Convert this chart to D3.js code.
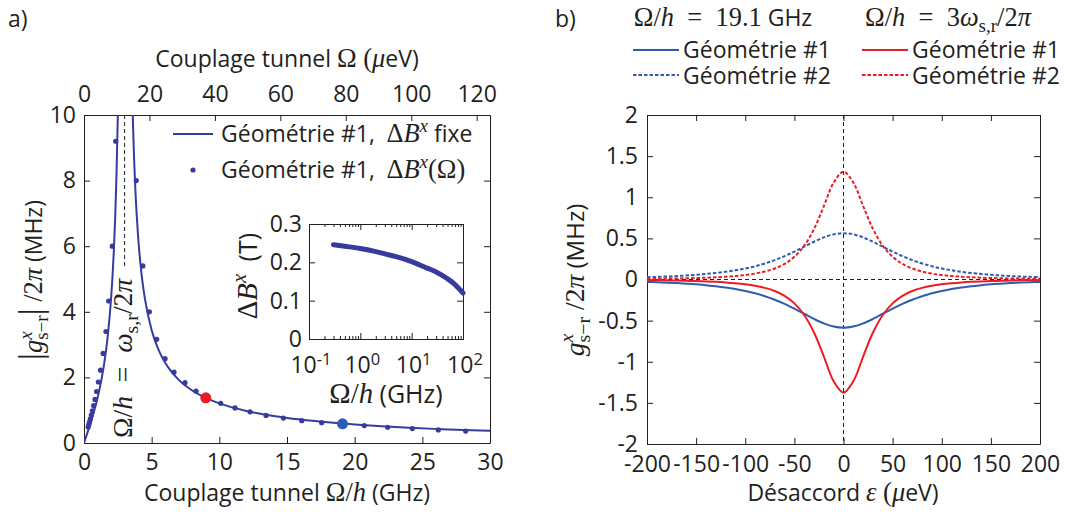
<!DOCTYPE html>
<html>
<head>
<meta charset="utf-8">
<script src="https://cdn.jsdelivr.net/npm/d3@7"></script>
<style>
  body { margin: 0; background: #fff; }
  svg { display: block; }
</style>
</head>
<body>
<svg id="fig" width="1073" height="514"></svg>
<script>
// ---------- Panel a: coupling versus tunnel coupling ----------
// solid curve, branch below the resonance (GHz, MHz)
const lineLowX = [0, 0.25, 0.5, 0.75, 1, 1.25, 1.5, 1.75, 2, 2.1, 2.2, 2.3, 2.4, 2.5, 2.55];
const lineLowY = [0, 0.308, 0.629, 0.978, 1.375, 1.849, 2.444, 3.242, 4.4, 5.033, 5.817, 6.819, 8.148, 10.0, 11.23];
// solid curve, branch above the resonance
const lineHighX = [3.55, 3.6, 3.7, 3.8, 4.0, 4.25, 4.5, 5, 5.5, 6, 7, 8, 9, 10, 12, 14, 16, 18, 20, 22, 24, 26, 28, 30];
const lineHighY = [10.84, 10.0, 8.678, 7.684, 6.286, 5.159, 4.4, 3.438, 2.847, 2.444, 1.925, 1.6, 1.375, 1.209, 0.978, 0.824, 0.713, 0.629, 0.563, 0.509, 0.466, 0.429, 0.397, 0.370];
// dotted series, field difference depending on tunnel coupling
const dotX = [0.31, 0.36, 0.41, 0.47, 0.54, 0.62, 0.71, 0.81, 0.93, 1.06, 1.22, 1.41, 1.62, 1.82, 2.09, 2.34,
              3.86, 4.35, 4.83, 5.37, 5.99, 6.65, 7.46, 8.28, 10.1, 11.16, 12.27, 13.45, 14.73, 16.09, 17.56,
              20.71, 22.44, 24.26, 26.18, 28.2];
const dotY = [0.49, 0.565, 0.645, 0.735, 0.85, 0.98, 1.14, 1.33, 1.57, 1.86, 2.22, 2.73, 3.4, 4.33, 6.0, 9.2,
              8.0, 5.4, 4.0, 3.16, 2.57, 2.16, 1.84, 1.58, 1.21, 1.07, 0.95, 0.84, 0.76, 0.68, 0.62,
              0.53, 0.48, 0.44, 0.40, 0.365];
// the two working points shown in panel b
const markX = [9.0, 19.1];
const markY = [1.376, 0.586];
const resonanceGHz = 3.0;
const xTicksA = [0, 5, 10, 15, 20, 25, 30];
const yTicksA = [0, 2, 4, 6, 8, 10];
const topTicksA = [0, 20, 40, 60, 80, 100, 120];
const topMaxUeV = 124.07; // 30 GHz expressed in µeV

// inset: field difference versus tunnel coupling
const insetX = [0.3, 0.5, 1, 2, 3, 5, 10, 20, 30, 50, 70, 100];
const insetY = [0.246, 0.242, 0.236, 0.228, 0.222, 0.215, 0.202, 0.185, 0.175, 0.157, 0.142, 0.12];
const insetYTicks = [0, 0.1, 0.2, 0.3];
const insetXTicks = [0.1, 1, 10, 100];
const insetXLabels = ['-1', '0', '1', '2'];

// ---------- Panel b: coupling versus detuning ----------
const epsilon = [-200, -190, -180, -170, -160, -150, -140, -130, -120, -110, -100, -90, -80, -70, -60, -50, -40, -30, -20, -10,
                 0, 10, 20, 30, 40, 50, 60, 70, 80, 90, 100, 110, 120, 130, 140, 150, 160, 170, 180, 190, 200];
const blueGeo1 = [-0.029, -0.033, -0.038, -0.044, -0.051, -0.059, -0.070, -0.082, -0.097, -0.116, -0.140, -0.168, -0.203, -0.246, -0.296, -0.354, -0.416, -0.479, -0.534, -0.572,
                  -0.586, -0.572, -0.534, -0.479, -0.416, -0.354, -0.296, -0.246, -0.203, -0.168, -0.140, -0.116, -0.097, -0.082, -0.070, -0.059, -0.051, -0.044, -0.038, -0.033, -0.029];
const blueGeo2 = [0.028, 0.032, 0.036, 0.042, 0.049, 0.057, 0.067, 0.079, 0.093, 0.112, 0.134, 0.161, 0.195, 0.236, 0.284, 0.339, 0.399, 0.459, 0.512, 0.549,
                  0.562, 0.549, 0.512, 0.459, 0.399, 0.339, 0.284, 0.236, 0.195, 0.161, 0.134, 0.112, 0.093, 0.079, 0.067, 0.057, 0.049, 0.042, 0.036, 0.032, 0.028];
const redGeo1 = [-0.008, -0.010, -0.011, -0.013, -0.016, -0.019, -0.023, -0.028, -0.035, -0.045, -0.058, -0.076, -0.102, -0.140, -0.199, -0.290, -0.431, -0.645, -0.937, -1.238,
                 -1.376, -1.238, -0.937, -0.645, -0.431, -0.290, -0.199, -0.140, -0.102, -0.076, -0.058, -0.045, -0.035, -0.028, -0.023, -0.019, -0.016, -0.013, -0.011, -0.010, -0.008];
const redGeo2 = [0.008, 0.009, 0.011, 0.013, 0.015, 0.018, 0.022, 0.027, 0.034, 0.042, 0.055, 0.072, 0.097, 0.134, 0.189, 0.276, 0.410, 0.614, 0.892, 1.178,
                 1.310, 1.178, 0.892, 0.614, 0.410, 0.276, 0.189, 0.134, 0.097, 0.072, 0.055, 0.042, 0.034, 0.027, 0.022, 0.018, 0.015, 0.013, 0.011, 0.009, 0.008];
const xTicksB = [-200, -150, -100, -50, 0, 50, 100, 150, 200];
const yTicksB = [-2, -1.5, -1, -0.5, 0, 0.5, 1, 1.5, 2];

// ---------- styling ----------
const INK = '#231f20';
const NAVY = '#383b9e';
const BLUE = '#2f5cb3';
const RED = '#ec1c24';
const SANS = "'Open Sans', 'Liberation Sans', sans-serif";
const SERIF = "'Liberation Serif', 'DejaVu Serif', serif";
const SERIF_SCALE = 1.15; // math glyphs drawn a little larger than the sans text
const TICK = 23;
const LABEL = 23;

const svg = d3.select('#fig');

// Text made of pieces in sans, roman or italic, with superscripts and subscripts.
// An 'under' subscript is stacked beneath the preceding superscript; 'big' enlarges a delimiter;
// 'exp' is a lower superscript used for tick exponents.
function rich(parent, parts, size, attrs) {
  const t = parent.append('text').style('font-size', size + 'px').attr('fill', INK);
  Object.entries(attrs || {}).forEach(([k, v]) => t.attr(k, v));
  let shift = 0, lastW = 0;
  parts.forEach(([str, kind, pos]) => {
    const small = pos === 'sup' || pos === 'sub' || pos === 'under' || pos === 'exp';
    const target = pos === 'sup' ? 0.45 * size : pos === 'exp' ? 0.36 * size : small ? -0.26 * size : 0;
    let fs = kind === 'sans' ? size : size * SERIF_SCALE;
    if (small) fs *= 0.72;
    if (pos === 'big') fs *= 1.3;
    const ts = t.append('tspan').text(str)
      .style('font-family', kind === 'sans' ? SANS : SERIF)
      .style('font-style', kind === 'it' ? 'italic' : 'normal')
      .style('font-size', fs + 'px')
      .attr('dy', shift - target);
    if (pos === 'under') ts.attr('dx', -lastW);
    shift = target;
    lastW = ts.node().getComputedTextLength();
  });
  return t;
}

function styleAxis(g, size) {
  g.attr('font-family', null).attr('font-size', null);
  g.selectAll('.domain').attr('stroke', INK).attr('stroke-width', 1);
  g.selectAll('.tick line').attr('stroke', INK);
  g.selectAll('.tick text').style('font-family', SANS).style('font-size', size + 'px').attr('fill', INK);
}

// ================= Panel a =================
const xA = d3.scaleLinear().domain([0, 30]).range([84, 490]);
const yA = d3.scaleLinear().domain([0, 10]).range([443, 115]);
const xTopA = d3.scaleLinear().domain([0, topMaxUeV]).range([84, 490]);

const pa = svg.append('g');
pa.append('defs').append('clipPath').attr('id', 'clipA')
  .append('rect').attr('x', 84).attr('y', 115).attr('width', 406).attr('height', 328);

pa.append('g').attr('transform', 'translate(0,443)')
  .call(d3.axisBottom(xA).tickValues(xTicksA).tickSizeInner(-6).tickSizeOuter(0).tickPadding(11))
  .call(g => styleAxis(g, TICK));
pa.append('g').attr('transform', 'translate(0,115)')
  .call(d3.axisTop(xTopA).tickValues(topTicksA).tickSizeInner(-6).tickSizeOuter(0).tickPadding(13))
  .call(g => styleAxis(g, TICK));
pa.append('g').attr('transform', 'translate(84,0)')
  .call(d3.axisLeft(yA).tickValues(yTicksA).tickSizeInner(-6).tickSizeOuter(0).tickPadding(8))
  .call(g => styleAxis(g, TICK));
pa.append('g').attr('transform', 'translate(490,0)')
  .call(d3.axisRight(yA).tickValues(yTicksA).tickSizeInner(-6).tickSizeOuter(0).tickFormat(''))
  .call(g => styleAxis(g, TICK));

// resonance marker
pa.append('line')
  .attr('x1', xA(resonanceGHz)).attr('x2', xA(resonanceGHz))
  .attr('y1', yA(10)).attr('y2', 266)
  .attr('stroke', INK).attr('stroke-width', 1).attr('stroke-dasharray', '4,3');
rich(pa, [['Ω', 'rm'], ['/', 'rm'], ['h', 'it'], ['\u2002=\u2002', 'rm'], ['ω', 'it'], ['s,r', 'rm', 'sub'], ['/2', 'rm'], ['π', 'it']],
  24, { transform: 'translate(132,438) rotate(-90)' });

const plotA = pa.append('g').attr('clip-path', 'url(#clipA)');
const lineA = d3.line().x(d => xA(d[0])).y(d => yA(d[1])).curve(d3.curveMonotoneX);
[[lineLowX, lineLowY], [lineHighX, lineHighY]].forEach(([xs, ys]) => {
  plotA.append('path').datum(xs.map((x, i) => [x, ys[i]]))
    .attr('d', lineA).attr('fill', 'none').attr('stroke', NAVY).attr('stroke-width', 2);
});
plotA.selectAll('circle.dot').data(dotX.map((x, i) => [x, dotY[i]])).join('circle')
  .attr('class', 'dot').attr('cx', d => xA(d[0])).attr('cy', d => yA(d[1])).attr('r', 2.6).attr('fill', NAVY);
plotA.selectAll('circle.mark').data(markX.map((x, i) => [x, markY[i], i ? BLUE : RED])).join('circle')
  .attr('class', 'mark').attr('cx', d => xA(d[0])).attr('cy', d => yA(d[1])).attr('r', 5.5).attr('fill', d => d[2]);

// legend
pa.append('line').attr('x1', 173).attr('x2', 213).attr('y1', 134).attr('y2', 134).attr('stroke', NAVY).attr('stroke-width', 2);
rich(pa, [['Géométrie #1,\u2002', 'sans'], ['Δ', 'rm'], ['B', 'it'], ['x', 'it', 'sup'], [' fixe', 'sans']], LABEL, { x: 221, y: 142 });
pa.append('circle').attr('cx', 193).attr('cy', 170).attr('r', 2.6).attr('fill', NAVY);
rich(pa, [['Géométrie #1,\u2002', 'sans'], ['Δ', 'rm'], ['B', 'it'], ['x', 'it', 'sup'], ['(Ω)', 'rm']], LABEL, { x: 221, y: 178 });

// axis titles
rich(pa, [['Couplage tunnel ', 'sans'], ['Ω', 'rm'], ['/', 'rm'], ['h', 'it'], [' (GHz)', 'sans']], LABEL,
  { x: 287, y: 501, 'text-anchor': 'middle' });
rich(pa, [['Couplage tunnel ', 'sans'], ['Ω', 'rm'], [' (', 'rm'], ['μ', 'it'], ['eV)', 'sans']], LABEL,
  { x: 287, y: 67, 'text-anchor': 'middle' });
rich(pa, [['|', 'rm', 'big'], ['g', 'it'], ['x', 'it', 'sup'], ['s−r', 'rm', 'under'], ['|', 'rm', 'big'], [' /2', 'rm'], ['π', 'it'], [' (MHz)', 'sans']],
  LABEL, { transform: 'translate(42,280) rotate(-90)', 'text-anchor': 'middle' });
pa.append('text').attr('x', 8).attr('y', 27).text('a)')
  .style('font-family', SANS).style('font-size', '23px').attr('fill', INK);

// ---------- inset ----------
const xI = d3.scaleLog().domain([0.1, 100]).range([309, 463]);
const yI = d3.scaleLinear().domain([0, 0.3]).range([339, 224]);
const inset = svg.append('g');
inset.append('rect').attr('x', 309).attr('y', 224).attr('width', 154).attr('height', 115).attr('fill', '#fff');
const minor = [];
[0.1, 1, 10].forEach(d => { for (let k = 2; k <= 9; k++) minor.push(d * k); });
[[339, d3.axisBottom], [224, d3.axisTop]].forEach(([y, ax]) => {
  inset.append('g').attr('transform', `translate(0,${y})`)
    .call(ax(xI).tickValues(minor).tickSizeInner(-3).tickSizeOuter(0).tickFormat(''))
    .call(g => styleAxis(g, TICK));
  inset.append('g').attr('transform', `translate(0,${y})`)
    .call(ax(xI).tickValues(insetXTicks).tickSizeInner(-6).tickSizeOuter(0).tickFormat(''))
    .call(g => styleAxis(g, TICK));
});
inset.append('g').attr('transform', 'translate(309,0)')
  .call(d3.axisLeft(yI).tickValues(insetYTicks).tickSizeInner(-6).tickSizeOuter(0).tickPadding(7).tickFormat(d => d))
  .call(g => styleAxis(g, TICK));
inset.append('g').attr('transform', 'translate(463,0)')
  .call(d3.axisRight(yI).tickValues(insetYTicks).tickSizeInner(-6).tickSizeOuter(0).tickFormat(''))
  .call(g => styleAxis(g, TICK));
insetXTicks.forEach((v, i) => {
  rich(inset, [['10', 'sans'], [insetXLabels[i], 'sans', 'exp']], TICK, { x: xI(v) + 2, y: 373, 'text-anchor': 'middle' });
});
inset.append('path').datum(insetX.map((x, i) => [x, insetY[i]]))
  .attr('d', d3.line().x(d => xI(d[0])).y(d => yI(d[1])).curve(d3.curveMonotoneX))
  .attr('fill', 'none').attr('stroke', NAVY).attr('stroke-width', 5).attr('stroke-linecap', 'round');
rich(inset, [['Ω', 'rm'], ['/', 'rm'], ['h', 'it'], [' (GHz)', 'sans']], 25, { x: 386, y: 403, 'text-anchor': 'middle' });
rich(inset, [['Δ', 'rm'], ['B', 'it'], ['x', 'it', 'sup'], ['\u2002(T)', 'sans']], 25,
  { transform: 'translate(257,276) rotate(-90)', 'text-anchor': 'middle' });

// ================= Panel b =================
const xB = d3.scaleLinear().domain([-200, 200]).range([647, 1040]);
const yB = d3.scaleLinear().domain([-2, 2]).range([444, 115]);
const pb = svg.append('g');
pb.append('defs').append('clipPath').attr('id', 'clipB')
  .append('rect').attr('x', 647).attr('y', 115).attr('width', 393).attr('height', 329);

pb.append('g').attr('transform', 'translate(0,444)')
  .call(d3.axisBottom(xB).tickValues(xTicksB).tickSizeInner(-6).tickSizeOuter(0).tickPadding(12).tickFormat(d => d))
  .call(g => styleAxis(g, TICK));
pb.append('g').attr('transform', 'translate(0,115)')
  .call(d3.axisTop(xB).tickValues(xTicksB).tickSizeInner(-6).tickSizeOuter(0).tickFormat(''))
  .call(g => styleAxis(g, TICK));
pb.append('g').attr('transform', 'translate(647,0)')
  .call(d3.axisLeft(yB).tickValues(yTicksB).tickSizeInner(-6).tickSizeOuter(0).tickPadding(9).tickFormat(d => d))
  .call(g => styleAxis(g, TICK));
pb.append('g').attr('transform', 'translate(1040,0)')
  .call(d3.axisRight(yB).tickValues(yTicksB).tickSizeInner(-6).tickSizeOuter(0).tickFormat(''))
  .call(g => styleAxis(g, TICK));

const plotB = pb.append('g').attr('clip-path', 'url(#clipB)');
plotB.append('line').attr('x1', xB(-200)).attr('x2', xB(200)).attr('y1', yB(0)).attr('y2', yB(0))
  .attr('stroke', INK).attr('stroke-width', 1).attr('stroke-dasharray', '4,3');
plotB.append('line').attr('x1', xB(0)).attr('x2', xB(0)).attr('y1', yB(2)).attr('y2', yB(-2))
  .attr('stroke', INK).attr('stroke-width', 1).attr('stroke-dasharray', '4,3');

const lineB = d3.line().x(d => xB(d[0])).y(d => yB(d[1])).curve(d3.curveCatmullRom);
const seriesB = [
  { v: blueGeo1, c: BLUE, dash: null },
  { v: blueGeo2, c: BLUE, dash: '3.5,2' },
  { v: redGeo1, c: RED, dash: null },
  { v: redGeo2, c: RED, dash: '3.5,2' }
];
seriesB.forEach(s => {
  plotB.append('path').datum(epsilon.map((e, i) => [e, s.v[i]]))
    .attr('d', lineB).attr('fill', 'none').attr('stroke', s.c).attr('stroke-width', 2)
    .attr('stroke-dasharray', s.dash);
});

// legend and headers
[[633, BLUE], [862, RED]].forEach(([x0, c]) => {
  pb.append('line').attr('x1', x0).attr('x2', x0 + 46).attr('y1', 50).attr('y2', 50).attr('stroke', c).attr('stroke-width', 2);
  pb.append('line').attr('x1', x0).attr('x2', x0 + 46).attr('y1', 75).attr('y2', 75).attr('stroke', c).attr('stroke-width', 2).attr('stroke-dasharray', '3.5,2');
  rich(pb, [['Géométrie #1', 'sans']], LABEL, { x: x0 + 50, y: 58 });
  rich(pb, [['Géométrie #2', 'sans']], LABEL, { x: x0 + 50, y: 84 });
});
rich(pb, [['Ω', 'rm'], ['/', 'rm'], ['h', 'it'], ['\u2002=\u2002', 'rm'], ['19.1', 'rm'], [' GHz', 'sans']], LABEL,
  { x: 723, y: 26, 'text-anchor': 'middle' });
rich(pb, [['Ω', 'rm'], ['/', 'rm'], ['h', 'it'], ['\u2002=\u2002', 'rm'], ['3', 'rm'], ['ω', 'it'], ['s,r', 'rm', 'sub'], ['/2', 'rm'], ['π', 'it']], LABEL,
  { x: 948, y: 26, 'text-anchor': 'middle' });
pb.append('text').attr('x', 555).attr('y', 27).text('b)')
  .style('font-family', SANS).style('font-size', '23px').attr('fill', INK);

rich(pb, [['Désaccord ', 'sans'], ['ε', 'it'], [' (', 'rm'], ['μ', 'it'], ['eV)', 'sans']], LABEL,
  { x: 843, y: 501, 'text-anchor': 'middle' });
rich(pb, [['g', 'it'], ['x', 'it', 'sup'], ['s−r', 'rm', 'under'], [' /2', 'rm'], ['π', 'it'], [' (MHz)', 'sans']],
  24, { transform: 'translate(584,280) rotate(-90)', 'text-anchor': 'middle' });
</script>
</body>
</html>
